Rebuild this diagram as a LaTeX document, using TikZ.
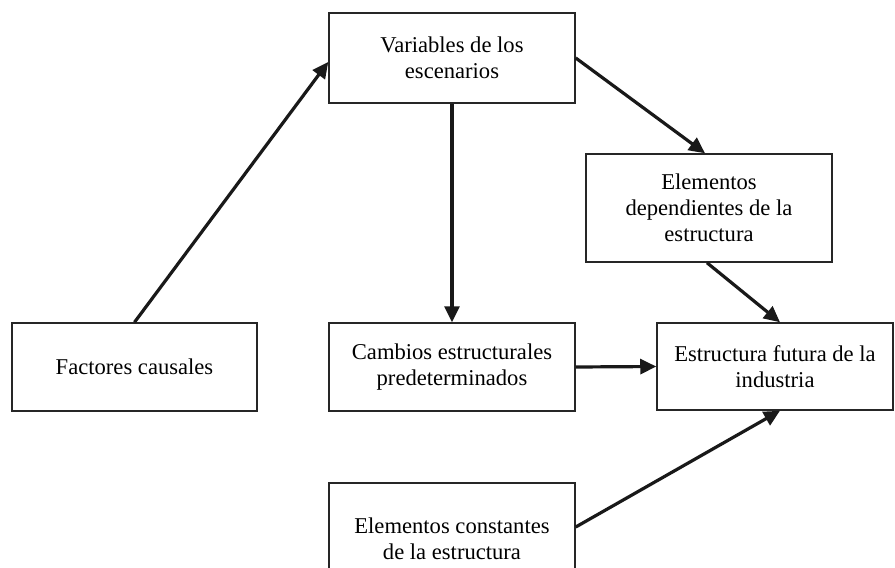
\documentclass[tikz,border=0pt]{standalone}
\usepackage{fontspec}
\setmainfont{Liberation Serif}
\usepackage{tikz}
\usetikzlibrary{positioning,arrows.meta}
\tikzstyle{block}=[rectangle,fill=white,draw=black!85,line width=1.5pt,align=center,inner sep=0pt,font=\fontsize{22.6}{26}\selectfont]
\tikzstyle{mypath}=[line width=3.2pt,draw=black!90,-{Triangle[length=16pt,width=15pt]}]
\def\boxw{246pt}
\begin{document}
\begin{tikzpicture}[x=1pt,y=-1pt]
		\useasboundingbox (0,0) rectangle (895,568);

		% top
		\node[block,minimum width=\boxw,minimum height=90pt] (vars) at (452,58) {Variables de los\\escenarios};
		\node[block,minimum width=\boxw,minimum height=108pt] (dep) at (709,208) {Elementos\\dependientes de la\\estructura};

		% middle row
		\node[block,minimum width=245pt,minimum height=88pt] (causal) at (134.5,367) {Factores causales};
		\node[block,minimum width=\boxw,minimum height=88pt] (cambios) at (452,367) {Cambios estructurales\\predeterminados};
		\node[block,minimum width=236pt,minimum height=87pt] (futura) at (775,366.5) {Estructura futura de la\\industria};

		% bottom (cut by the page edge)
		\node[block,minimum width=\boxw,minimum height=112pt] (const) at (452,539) {Elementos constantes\\de la estructura};

		% Connections
		\draw[mypath] (causal.north) -- ([yshift=-4pt]vars.west);
		\draw[mypath] (vars.east) -- ([xshift=-4pt]dep.north);
		\draw[mypath] (vars.south) -- (cambios.north);
		\draw[mypath] (cambios.east) -- (futura.west);
		\draw[mypath] ([xshift=-2pt]dep.south) -- ([xshift=5pt]futura.north);
		\draw[mypath] ([yshift=12pt]const.east) -- ([xshift=5pt]futura.south);
	\end{tikzpicture}
\end{document}
